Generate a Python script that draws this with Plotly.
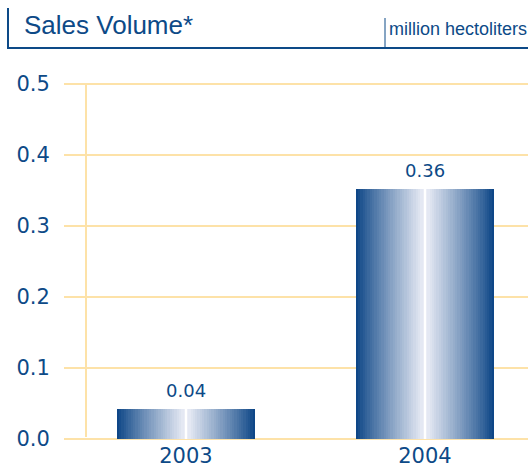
import plotly.graph_objects as go

# ---- data ----
years = ["2003", "2004"]
volumes = [0.042, 0.352]
value_labels = ["0.04", "0.36"]
y_ticks = [0.0, 0.1, 0.2, 0.3, 0.4, 0.5]
y_ticktext = ["0.0", "0.1", "0.2", "0.3", "0.4", "0.5"]
title_text = "Sales Volume*"
unit_text = "million hectoliters"

# ---- styling ----
W, H = 528, 472
ML, MR, MT, MB = 64, 0, 82, 31
DARK = (8, 66, 132)
LIGHT = (238, 240, 248)
TEXT = "#0d4a87"
GRID = "#fde2a8"
NUM_FONT = "DejaVu Sans"
TXT_FONT = "Liberation Sans"

xpos = list(range(len(years)))
bar_w = 0.578
N = 60

def mix(t):
    f = t ** 0.9
    return "rgb(%d,%d,%d)" % tuple(round(DARK[i] * (1 - f) + LIGHT[i] * f) for i in range(3))

fig = go.Figure()
slice_w = bar_w / N
for i in range(N):
    c = (i + 0.5) / N
    t = 1 - abs(c - 0.5) * 2
    fig.add_trace(go.Bar(
        x=xpos, y=volumes,
        width=slice_w * 1.15, offset=-bar_w / 2 + i * slice_w,
        marker=dict(color=mix(t), line=dict(width=0)),
        hoverinfo="skip", showlegend=False,
    ))
# white center line
fig.add_trace(go.Bar(
    x=xpos, y=volumes, width=0.009, offset=-0.0045,
    marker=dict(color="white", line=dict(width=0)),
    hoverinfo="skip", showlegend=False,
))

for xv, yv, lab in zip(xpos, volumes, value_labels):
    fig.add_annotation(x=xv, y=yv, xref="x", yref="y", text=lab, showarrow=False,
                       yanchor="bottom", yshift=6,
                       font=dict(family=NUM_FONT, size=18, color=TEXT))

def px(p):
    return (p - ML) / (W - ML - MR)

def py(p):
    return (H - MB - p) / (H - MT - MB)

# header
fig.add_annotation(x=px(22), y=py(25), xref="paper", yref="paper", text=title_text,
                   showarrow=False, xanchor="left", yanchor="middle",
                   font=dict(family=TXT_FONT, size=26, color=TEXT))
fig.add_annotation(x=px(387), y=py(29), xref="paper", yref="paper", text=unit_text,
                   showarrow=False, xanchor="left", yanchor="middle",
                   font=dict(family=TXT_FONT, size=18, color=TEXT))
fig.add_shape(type="line", xref="paper", yref="paper", x0=px(8), x1=px(8), y0=py(8), y1=py(48),
              line=dict(color=TEXT, width=2))
fig.add_shape(type="line", xref="paper", yref="paper", x0=px(7), x1=px(528), y0=py(48), y1=py(48),
              line=dict(color=TEXT, width=2))
fig.add_shape(type="line", xref="paper", yref="paper", x0=px(385), x1=px(385), y0=py(18), y1=py(48),
              line=dict(color=TEXT, width=1))
# vertical axis line
fig.add_shape(type="line", xref="paper", yref="paper", x0=px(86), x1=px(86), y0=py(85), y1=py(437),
              line=dict(color=GRID, width=2), layer="below")

fig.update_layout(
    width=W, height=H,
    margin=dict(l=ML, r=MR, t=MT, b=MB),
    barmode="overlay", bargap=0,
    plot_bgcolor="white", paper_bgcolor="white",
    xaxis=dict(range=[-0.510, 1.431], tickvals=xpos, ticktext=years, showgrid=False,
               zeroline=False, showline=False, ticks="", automargin=False,
               tickfont=dict(family=NUM_FONT, size=21, color=TEXT)),
    yaxis=dict(range=[-0.003, 0.503], tickvals=y_ticks, ticktext=y_ticktext,
               showgrid=True, gridcolor=GRID, gridwidth=2, zeroline=False, showline=False,
               ticks="outside", ticklen=9, tickcolor="rgba(0,0,0,0)", automargin=False,
               tickfont=dict(family=NUM_FONT, size=21, color=TEXT)),
)

fig.write_html("out.html")
